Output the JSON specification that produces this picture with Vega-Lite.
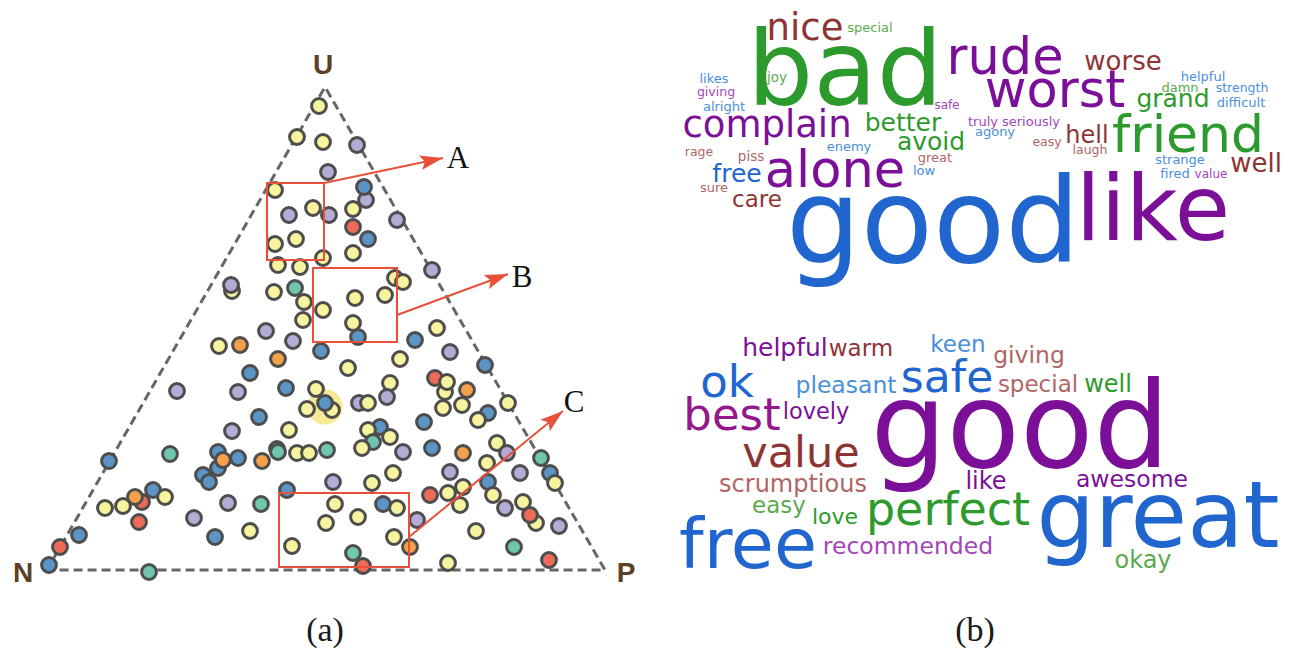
{
  "$schema": "https://vega.github.io/schema/vega-lite/v6.json",
  "width": 1289,
  "height": 663,
  "autosize": {"type": "fit", "contains": "padding"},
  "padding": 0,
  "background": "white",
  "config": {"view": {"stroke": null}},
  "datasets": {
    "halo": [{"x": 325, "y": 407}],
    "tri": [
      {"ord": 1, "x": 47, "y": 570},
      {"ord": 2, "x": 325, "y": 87},
      {"ord": 3, "x": 605, "y": 570},
      {"ord": 4, "x": 47, "y": 570}
    ],
    "dots": [
      {"x":319,"y":106,"k":"Y"},{"x":297,"y":137,"k":"Y"},{"x":323,"y":142,"k":"Y"},{"x":357,"y":145,"k":"L"},{"x":328,"y":172,"k":"L"},{"x":366,"y":200,"k":"L"},{"x":364,"y":187,"k":"B"},{"x":275,"y":190,"k":"Y"},{"x":289,"y":215,"k":"L"},{"x":313,"y":208,"k":"Y"},{"x":329,"y":215,"k":"L"},{"x":353,"y":209,"k":"Y"},{"x":353,"y":227,"k":"R"},{"x":368,"y":239,"k":"B"},{"x":397,"y":220,"k":"L"},{"x":275,"y":244,"k":"Y"},{"x":296,"y":239,"k":"Y"},{"x":353,"y":253,"k":"Y"},{"x":323,"y":258,"k":"Y"},{"x":278,"y":265,"k":"Y"},{"x":300,"y":267,"k":"Y"},{"x":432,"y":270,"k":"L"},
      {"x":232,"y":291,"k":"Y"},{"x":231,"y":285,"k":"L"},{"x":274,"y":292,"k":"Y"},{"x":295,"y":288,"k":"T"},{"x":304,"y":302,"k":"Y"},{"x":303,"y":320,"k":"Y"},{"x":266,"y":331,"k":"L"},{"x":293,"y":341,"k":"L"},{"x":219,"y":346,"k":"Y"},{"x":240,"y":345,"k":"O"},{"x":278,"y":359,"k":"O"},{"x":321,"y":351,"k":"B"},{"x":250,"y":373,"k":"B"},{"x":177,"y":391,"k":"L"},{"x":238,"y":392,"k":"L"},{"x":286,"y":388,"k":"B"},
      {"x":316,"y":389,"k":"Y"},{"x":307,"y":409,"k":"Y"},{"x":332,"y":410,"k":"Y"},{"x":325,"y":403,"k":"B"},
      {"x":259,"y":417,"k":"B"},{"x":232,"y":431,"k":"L"},{"x":289,"y":430,"k":"Y"},{"x":109,"y":461,"k":"B"},{"x":170,"y":454,"k":"T"},{"x":218,"y":452,"k":"B"},{"x":218,"y":468,"k":"B"},{"x":203,"y":475,"k":"B"},{"x":209,"y":482,"k":"B"},{"x":223,"y":460,"k":"O"},{"x":238,"y":458,"k":"B"},{"x":262,"y":461,"k":"O"},{"x":277,"y":449,"k":"B"},{"x":278,"y":452,"k":"T"},{"x":297,"y":453,"k":"Y"},{"x":309,"y":453,"k":"Y"},{"x":327,"y":450,"k":"T"},
      {"x":323,"y":310,"k":"Y"},{"x":355,"y":298,"k":"Y"},{"x":385,"y":295,"k":"Y"},{"x":358,"y":337,"k":"B"},{"x":353,"y":323,"k":"Y"},{"x":395,"y":278,"k":"Y"},{"x":403,"y":282,"k":"Y"},{"x":437,"y":328,"k":"Y"},{"x":415,"y":340,"k":"B"},{"x":450,"y":352,"k":"L"},{"x":400,"y":359,"k":"Y"},{"x":348,"y":368,"k":"Y"},{"x":485,"y":365,"k":"B"},{"x":435,"y":378,"k":"R"},{"x":445,"y":392,"k":"Y"},{"x":447,"y":382,"k":"Y"},{"x":467,"y":390,"k":"O"},{"x":390,"y":383,"k":"Y"},{"x":508,"y":403,"k":"Y"},{"x":387,"y":397,"k":"L"},{"x":359,"y":403,"k":"L"},{"x":368,"y":403,"k":"Y"},{"x":443,"y":408,"k":"Y"},{"x":462,"y":405,"k":"Y"},{"x":488,"y":413,"k":"B"},{"x":478,"y":420,"k":"Y"},{"x":424,"y":422,"k":"B"},{"x":380,"y":427,"k":"B"},{"x":368,"y":430,"k":"Y"},{"x":390,"y":437,"k":"Y"},{"x":373,"y":442,"k":"T"},{"x":497,"y":443,"k":"Y"},{"x":541,"y":458,"k":"T"},{"x":362,"y":448,"k":"Y"},{"x":403,"y":452,"k":"L"},{"x":432,"y":448,"k":"B"},{"x":463,"y":453,"k":"O"},{"x":507,"y":453,"k":"L"},
      {"x":105,"y":508,"k":"Y"},{"x":123,"y":506,"k":"Y"},{"x":142,"y":502,"k":"R"},{"x":135,"y":497,"k":"O"},{"x":153,"y":490,"k":"B"},{"x":165,"y":497,"k":"Y"},{"x":139,"y":522,"k":"R"},{"x":79,"y":535,"k":"B"},{"x":60,"y":547,"k":"R"},{"x":49,"y":565,"k":"B"},{"x":149,"y":572,"k":"T"},{"x":194,"y":518,"k":"L"},{"x":228,"y":503,"k":"L"},{"x":215,"y":537,"k":"B"},{"x":261,"y":504,"k":"T"},{"x":250,"y":531,"k":"Y"},{"x":287,"y":490,"k":"B"},{"x":333,"y":482,"k":"L"},{"x":335,"y":504,"k":"Y"},{"x":326,"y":523,"k":"Y"},{"x":292,"y":546,"k":"Y"},
      {"x":487,"y":463,"k":"Y"},{"x":450,"y":472,"k":"L"},{"x":520,"y":473,"k":"L"},{"x":550,"y":473,"k":"B"},{"x":555,"y":483,"k":"Y"},{"x":372,"y":483,"k":"Y"},{"x":393,"y":473,"k":"Y"},{"x":430,"y":495,"k":"R"},{"x":448,"y":493,"k":"Y"},{"x":463,"y":487,"k":"Y"},{"x":460,"y":505,"k":"Y"},{"x":488,"y":482,"k":"B"},{"x":493,"y":495,"k":"Y"},{"x":505,"y":508,"k":"L"},{"x":523,"y":502,"k":"Y"},{"x":536,"y":523,"k":"Y"},{"x":530,"y":515,"k":"R"},{"x":559,"y":526,"k":"L"},{"x":358,"y":517,"k":"Y"},{"x":383,"y":504,"k":"B"},{"x":397,"y":508,"k":"Y"},{"x":417,"y":520,"k":"L"},{"x":394,"y":537,"k":"Y"},{"x":410,"y":547,"k":"O"},{"x":476,"y":531,"k":"Y"},{"x":514,"y":547,"k":"T"},{"x":353,"y":553,"k":"T"},{"x":363,"y":566,"k":"R"},{"x":448,"y":563,"k":"Y"},{"x":549,"y":560,"k":"R"}
    ],
    "boxes": [
      {"name": "A", "x": 267, "x2": 324, "y": 183, "y2": 260},
      {"name": "B", "x": 313, "x2": 397, "y": 268, "y2": 342},
      {"name": "C", "x": 279, "x2": 409, "y": 493, "y2": 567}
    ],
    "arrows": [
      {"name": "A", "x": 324, "y": 183, "x2": 443, "y2": 158, "angle": -11.9},
      {"name": "B", "x": 397, "y": 315, "x2": 508, "y2": 274, "angle": -20.4},
      {"name": "C", "x": 409, "y": 537, "x2": 563, "y2": 411, "angle": -39.1}
    ],
    "callouts": [
      {"t": "A", "x": 458, "y": 168},
      {"t": "B", "x": 522, "y": 287},
      {"t": "C", "x": 574, "y": 412}
    ],
    "vertices": [
      {"t": "U", "x": 323, "y": 74},
      {"t": "N", "x": 23, "y": 582},
      {"t": "P", "x": 626, "y": 582}
    ],
    "captions": [
      {"t": "(a)", "x": 325, "y": 641},
      {"t": "(b)", "x": 975, "y": 641}
    ],
    "words": [
      {"w":"bad","x":845,"y":105,"n":104,"t":"G"},
      {"w":"nice","x":805,"y":40,"n":37,"t":"R"},
      {"w":"special","x":870,"y":32,"n":13,"t":"g"},
      {"w":"rude","x":1005,"y":74,"n":51,"t":"P"},
      {"w":"worst","x":1055,"y":107,"n":51,"t":"P"},
      {"w":"worse","x":1123,"y":70,"n":26,"t":"R"},
      {"w":"helpful","x":1203,"y":81,"n":13,"t":"b"},
      {"w":"damn","x":1180,"y":92,"n":13,"t":"g"},
      {"w":"strength","x":1242,"y":92,"n":12.5,"t":"b"},
      {"w":"difficult","x":1241,"y":107,"n":13,"t":"b"},
      {"w":"grand","x":1173,"y":107,"n":25,"t":"G"},
      {"w":"friend","x":1188,"y":152,"n":52,"t":"G"},
      {"w":"hell","x":1087,"y":143,"n":24,"t":"R"},
      {"w":"truly","x":983,"y":126,"n":13,"t":"p"},
      {"w":"seriously","x":1031,"y":126,"n":13,"t":"p"},
      {"w":"agony","x":995,"y":136,"n":13,"t":"b"},
      {"w":"easy","x":1047,"y":146,"n":12.5,"t":"r"},
      {"w":"laugh","x":1090,"y":154,"n":12.5,"t":"r"},
      {"w":"well","x":1256,"y":172,"n":26,"t":"R"},
      {"w":"strange","x":1180,"y":164,"n":13,"t":"b"},
      {"w":"fired","x":1175,"y":178,"n":13,"t":"b"},
      {"w":"value","x":1211,"y":178,"n":12,"t":"p"},
      {"w":"like","x":1153,"y":240,"n":90,"t":"P"},
      {"w":"good","x":933,"y":262,"n":118,"t":"B"},
      {"w":"likes","x":714,"y":83,"n":13,"t":"b"},
      {"w":"giving","x":716,"y":96,"n":12.5,"t":"p"},
      {"w":"alright","x":724,"y":111,"n":13,"t":"b"},
      {"w":"joy","x":777,"y":82,"n":13.5,"t":"g"},
      {"w":"complain","x":767,"y":137,"n":37,"t":"P"},
      {"w":"better","x":903,"y":131,"n":25,"t":"G"},
      {"w":"avoid","x":931,"y":150,"n":25,"t":"G"},
      {"w":"safe","x":947,"y":109,"n":12,"t":"p"},
      {"w":"enemy","x":849,"y":151,"n":13,"t":"b"},
      {"w":"great","x":935,"y":162,"n":13,"t":"r"},
      {"w":"low","x":924,"y":175,"n":13,"t":"b"},
      {"w":"rage","x":699,"y":156,"n":12.5,"t":"r"},
      {"w":"piss","x":751,"y":161,"n":13.5,"t":"r"},
      {"w":"free","x":737,"y":182,"n":25,"t":"B"},
      {"w":"alone","x":835,"y":187,"n":51,"t":"P"},
      {"w":"sure","x":714,"y":192,"n":13,"t":"r"},
      {"w":"care","x":757,"y":207,"n":23,"t":"R"},
      {"w":"helpful","x":785,"y":356,"n":25,"t":"P"},
      {"w":"warm","x":861,"y":356,"n":23,"t":"R"},
      {"w":"keen","x":958,"y":352,"n":23,"t":"b"},
      {"w":"giving","x":1029,"y":363,"n":23.5,"t":"r"},
      {"w":"ok","x":727,"y":397,"n":45,"t":"B"},
      {"w":"pleasant","x":846,"y":393,"n":23.5,"t":"b"},
      {"w":"safe","x":947,"y":392,"n":44,"t":"B"},
      {"w":"special","x":1038,"y":392,"n":23,"t":"r"},
      {"w":"well","x":1108,"y":392,"n":24,"t":"G"},
      {"w":"best","x":732,"y":430,"n":45,"t":"M"},
      {"w":"lovely","x":816,"y":419,"n":22.5,"t":"P"},
      {"w":"value","x":801,"y":467,"n":43,"t":"R"},
      {"w":"good","x":1020,"y":467,"n":120,"t":"P"},
      {"w":"scrumptious","x":793,"y":492,"n":24,"t":"r"},
      {"w":"like","x":986,"y":489,"n":24,"t":"P"},
      {"w":"awesome","x":1132,"y":487,"n":23.5,"t":"P"},
      {"w":"easy","x":779,"y":513,"n":23,"t":"g"},
      {"w":"love","x":835,"y":524,"n":22,"t":"G"},
      {"w":"perfect","x":948,"y":525,"n":46,"t":"G"},
      {"w":"free","x":748,"y":568,"n":70,"t":"B"},
      {"w":"recommended","x":908,"y":554,"n":23.5,"t":"p"},
      {"w":"great","x":1158,"y":547,"n":92,"t":"B"},
      {"w":"okay","x":1143,"y":568,"n":24,"t":"g"}
    ]
  },
  "layer": [
    {
      "data": {"name": "halo"},
      "mark": {"type": "point", "shape": "circle", "filled": true, "color": "#f5e57a", "opacity": 0.8, "size": 1250, "strokeWidth": 0},
      "encoding": {
        "x": {"field": "x", "type": "quantitative", "scale": {"domain": [0, 1289], "nice": false, "zero": false}, "axis": null},
        "y": {"field": "y", "type": "quantitative", "scale": {"domain": [0, 663], "nice": false, "zero": false, "reverse": true}, "axis": null}
      }
    },
    {
      "data": {"name": "tri"},
      "mark": {"type": "line", "color": "#666666", "strokeWidth": 3, "strokeDash": [9, 5]},
      "encoding": {
        "x": {"field": "x", "type": "quantitative", "axis": null},
        "y": {"field": "y", "type": "quantitative", "axis": null},
        "order": {"field": "ord", "type": "quantitative"}
      }
    },
    {
      "data": {"name": "dots"},
      "mark": {"type": "point", "shape": "circle", "filled": true, "size": 220, "stroke": "#4d4d4d", "strokeWidth": 3, "opacity": 1},
      "encoding": {
        "x": {"field": "x", "type": "quantitative", "axis": null},
        "y": {"field": "y", "type": "quantitative", "axis": null},
        "fill": {"field": "k", "type": "nominal", "legend": null,
          "scale": {"domain": ["Y", "L", "B", "T", "O", "R"], "range": ["#f7f39e", "#b4abd6", "#5b95c6", "#70c5ae", "#f5a14b", "#ee6b5a"]}}
      }
    },
    {
      "data": {"name": "boxes"},
      "mark": {"type": "rect", "filled": false, "color": "#e8503a", "strokeWidth": 2},
      "encoding": {
        "x": {"field": "x", "type": "quantitative", "axis": null},
        "x2": {"field": "x2"},
        "y": {"field": "y", "type": "quantitative", "axis": null},
        "y2": {"field": "y2"}
      }
    },
    {
      "data": {"name": "arrows"},
      "mark": {"type": "rule", "color": "#e8503a", "strokeWidth": 2},
      "encoding": {
        "x": {"field": "x", "type": "quantitative", "axis": null},
        "x2": {"field": "x2"},
        "y": {"field": "y", "type": "quantitative", "axis": null},
        "y2": {"field": "y2"}
      }
    },
    {
      "data": {"name": "arrows"},
      "mark": {"type": "point", "shape": "M0,0L-2,-0.65L-1.6,0L-2,0.65Z", "filled": true, "color": "#e8503a", "size": 530, "opacity": 1, "strokeWidth": 0},
      "encoding": {
        "x": {"field": "x2", "type": "quantitative", "axis": null},
        "y": {"field": "y2", "type": "quantitative", "axis": null},
        "angle": {"field": "angle", "type": "quantitative", "scale": null}
      }
    },
    {
      "data": {"name": "callouts"},
      "mark": {"type": "text", "font": "Liberation Serif", "fontSize": 31, "color": "#111111", "align": "center", "baseline": "alphabetic"},
      "encoding": {
        "x": {"field": "x", "type": "quantitative", "axis": null},
        "y": {"field": "y", "type": "quantitative", "axis": null},
        "text": {"field": "t"}
      }
    },
    {
      "data": {"name": "vertices"},
      "mark": {"type": "text", "font": "Liberation Sans", "fontWeight": "bold", "fontSize": 28, "color": "#5e4026", "align": "center", "baseline": "alphabetic"},
      "encoding": {
        "x": {"field": "x", "type": "quantitative", "axis": null},
        "y": {"field": "y", "type": "quantitative", "axis": null},
        "text": {"field": "t"}
      }
    },
    {
      "data": {"name": "captions"},
      "mark": {"type": "text", "font": "Liberation Serif", "fontSize": 34, "color": "#1a1a1a", "align": "center", "baseline": "alphabetic"},
      "encoding": {
        "x": {"field": "x", "type": "quantitative", "axis": null},
        "y": {"field": "y", "type": "quantitative", "axis": null},
        "text": {"field": "t"}
      }
    },
    {
      "data": {"name": "words"},
      "mark": {"type": "text", "font": "DejaVu Sans", "align": "center", "baseline": "alphabetic"},
      "encoding": {
        "x": {"field": "x", "type": "quantitative", "axis": null},
        "y": {"field": "y", "type": "quantitative", "axis": null},
        "text": {"field": "w"},
        "size": {"field": "n", "type": "quantitative", "legend": null, "scale": {"type": "linear", "domain": [0, 100], "range": [0, 100]}},
        "color": {"field": "t", "type": "nominal", "legend": null,
          "scale": {"domain": ["G", "g", "B", "b", "P", "p", "M", "R", "r"], "range": ["#2d9a2d", "#5aab4f", "#2165cf", "#4a8fdc", "#7c0f98", "#a445b8", "#94178c", "#8e3434", "#b06666"]}}
      }
    }
  ]
}
